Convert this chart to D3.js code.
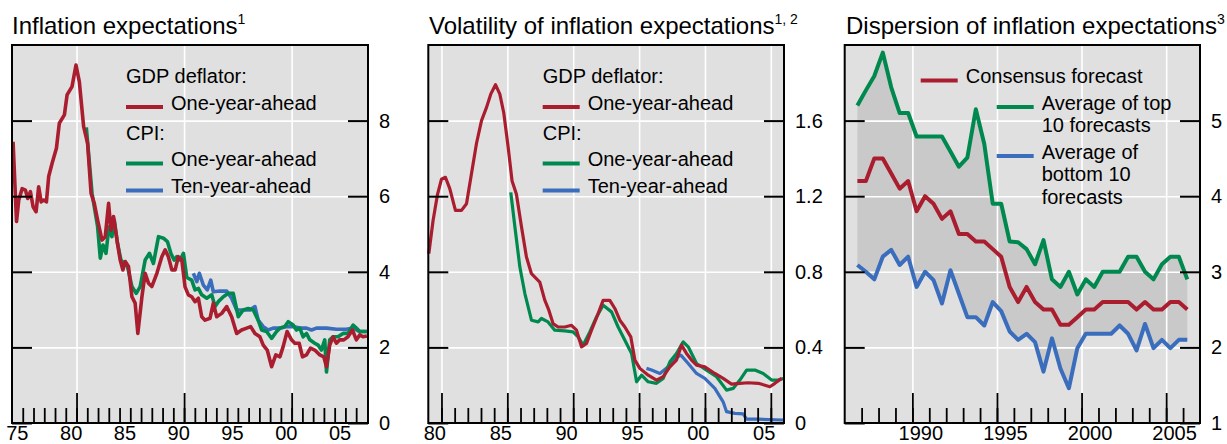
<!DOCTYPE html>
<html>
<head>
<meta charset="utf-8">
<script src="https://cdn.jsdelivr.net/npm/d3@7"></script>
<style>
  body { margin: 0; background: #fff; }
  svg { font-family: "Liberation Sans", Arial, sans-serif; display: block; }
</style>
</head>
<body>
<svg id="chart"></svg>
<script>
// [ --- data
// Panel 1: inflation expectations, [year, per cent]
var gdpOneYear = [[1974.1,7.44],[1974.42,5.33],[1974.63,5.9],[1974.94,6.2],[1975.25,6.16],[1975.46,5.94],[1975.71,6.12],
  [1975.96,5.72],[1976.24,5.59],[1976.48,6.25],[1976.71,5.85],[1976.95,5.9],[1977.2,5.85],[1977.41,6.52],[1977.73,6.87],
  [1978.13,7.27],[1978.4,7.93],[1978.87,8.15],[1979.12,8.68],[1979.58,8.9],[1979.95,9.47],[1980.26,9.03],[1980.66,7.84],
  [1981.03,7.4],[1981.35,6.08],[1981.65,5.81],[1981.96,5.37],[1982.37,4.84],[1982.67,4.93],[1982.98,5.81],[1983.2,5.1],
  [1983.44,5.46],[1983.76,4.84],[1984.06,4.31],[1984.31,4.05],[1984.53,4.27],[1984.83,4.14],[1985.15,3.34],[1985.45,3.17],
  [1985.7,2.37],[1986.08,3.34],[1986.38,3.96],[1986.69,3.7],[1987,3.61],[1987.47,3.96],[1987.93,4.4],[1988.24,4.58],
  [1988.54,4.4],[1988.86,4.05],[1989.17,4.05],[1989.47,4.4],[1989.79,4.31],[1990.09,3.6],[1990.4,3.39],[1990.71,3.34],
  [1991.02,3.21],[1991.33,3.3],[1991.64,2.81],[1991.95,2.72],[1992.41,2.77],[1992.72,3.17],[1993.03,2.81],[1993.5,2.9],
  [1993.96,3.08],[1994.42,2.81],[1994.89,2.37],[1995.35,2.46],[1995.82,2.51],[1996.19,2.55],[1996.59,2.37],[1997.05,2.28],
  [1997.36,2.06],[1997.73,1.93],[1998.14,1.49],[1998.53,1.8],[1998.91,1.75],[1999.21,2.02],[1999.58,2.42],[1999.99,2.2],
  [2000.3,2.11],[2000.7,2.11],[2001.01,1.75],[2001.38,1.8],[2001.75,1.98],[2002.15,1.93],[2002.62,1.8],[2002.99,1.75],
  [2003.24,1.49],[2003.54,2.06],[2003.85,2.28],[2004.16,2.11],[2004.47,2.2],[2004.85,2.2],[2005.24,2.28],[2005.65,2.46],
  [2006.02,2.2],[2006.33,2.33],[2006.63,2.28],[2007,2.3]];

var cpiOneYear = [[1980.91,7.82],[1981.44,6.08],[1981.96,5.19],[1982.21,4.36],[1982.46,4.71],[1982.74,4.49],[1983.01,5.19],
  [1983.29,4.93],[1983.51,5.37],[1983.81,4.75],[1984.13,4.31],[1984.43,4.22],[1984.74,4.14],[1985.15,3.61],[1985.55,3.43],
  [1985.92,3.61],[1986.38,4.31],[1986.78,4.49],[1987.15,4.22],[1987.62,4.93],[1988.08,4.89],[1988.45,4.8],[1988.77,4.49],
  [1989.07,4.31],[1989.32,4.4],[1989.63,4.31],[1989.94,4.49],[1990.25,3.85],[1990.71,3.78],[1991.02,3.52],[1991.33,3.56],
  [1991.64,3.39],[1992.11,3.3],[1992.57,3.39],[1992.88,3.08],[1993.18,3.21],[1993.65,3.34],[1994.11,3.43],[1994.57,3.43],
  [1995.04,2.81],[1995.5,2.99],[1995.96,3.03],[1996.43,2.99],[1996.89,2.72],[1997.21,2.46],[1997.67,2.42],[1998.14,2.24],
  [1998.6,2.42],[1998.91,2.51],[1999.37,2.55],[1999.68,2.68],[2000.14,2.59],[2000.45,2.46],[2000.76,2.51],[2001.07,2.28],
  [2001.38,2.37],[2001.69,2.2],[2002.15,2.11],[2002.46,2.06],[2002.77,1.93],[2003.08,2.2],[2003.24,1.35],[2003.54,2.2],
  [2003.85,2.28],[2004.31,2.28],[2004.78,2.37],[2005.24,2.37],[2005.71,2.59],[2006.02,2.51],[2006.33,2.42],[2007,2.42]];

var cpiTenYear = [[1990.86,3.96],[1991.18,3.74],[1991.42,3.96],[1991.79,3.65],[1992.16,3.52],[1992.48,3.78],[1992.72,3.47],
  [1993.34,3.49],[1993.96,3.49],[1994.42,3.3],[1994.89,2.99],[1995.5,2.99],[1996.12,2.99],[1996.59,3.08],[1996.89,2.72],
  [1997.36,2.55],[1997.82,2.46],[1998.28,2.51],[1998.91,2.51],[1999.53,2.55],[2000.14,2.55],[2000.76,2.51],[2001.38,2.51],
  [2001.85,2.46],[2002.31,2.51],[2003.24,2.51],[2004.16,2.48],[2005.09,2.48],[2005.71,2.51],[2006.33,2.42],[2007,2.42]];

// Panel 2: volatility of inflation expectations, [year, percentage points]
var volGdpOneYear = [[1979.04,0.896],[1979.36,1.07],[1979.7,1.21],[1980,1.29],[1980.3,1.3],[1980.63,1.24],[1981.06,1.125],
  [1981.52,1.125],[1981.9,1.16],[1982.28,1.32],[1982.66,1.48],[1983.04,1.6],[1983.42,1.67],[1983.74,1.74],[1984.1,1.79],
  [1984.43,1.74],[1984.73,1.64],[1985.06,1.46],[1985.36,1.28],[1985.69,1.21],[1986.07,1.04],[1986.45,0.878],[1986.83,0.79],
  [1987.46,0.746],[1987.84,0.65],[1988.15,0.597],[1988.47,0.526],[1988.85,0.508],[1989.36,0.508],[1989.87,0.517],
  [1990.25,0.491],[1990.63,0.403],[1991.01,0.421],[1991.39,0.491],[1991.89,0.579],[1992.27,0.649],[1992.78,0.649],
  [1993.16,0.606],[1993.54,0.544],[1993.92,0.508],[1994.37,0.456],[1994.68,0.333],[1995.06,0.289],[1995.69,0.253],
  [1996.32,0.227],[1996.83,0.245],[1997.34,0.297],[1997.84,0.333],[1998.22,0.412],[1998.6,0.368],[1998.98,0.333],
  [1999.36,0.306],[1999.99,0.297],[2000.75,0.262],[2001.38,0.236],[2002.02,0.206],[2002.65,0.21],[2003.28,0.213],
  [2004.04,0.21],[2004.55,0.2],[2004.93,0.192],[2005.31,0.21],[2005.82,0.236]];

var volCpiOneYear = [[1985.26,1.22],[1985.57,1.04],[1985.95,0.825],[1986.33,0.685],[1986.83,0.544],[1987.34,0.535],
  [1987.59,0.553],[1988.09,0.535],[1988.6,0.491],[1989.36,0.487],[1989.99,0.482],[1990.37,0.456],[1990.75,0.412],
  [1991.26,0.482],[1991.77,0.561],[1992.27,0.623],[1992.91,0.588],[1993.41,0.508],[1993.92,0.438],[1994.43,0.368],
  [1994.81,0.218],[1995.19,0.253],[1995.69,0.218],[1996.32,0.21],[1996.83,0.236],[1997.34,0.324],[1997.84,0.368],
  [1998.35,0.429],[1998.73,0.403],[1999.36,0.315],[2000.12,0.28],[2000.88,0.245],[2001.64,0.174],[2002.14,0.183],
  [2002.65,0.227],[2003.16,0.28],[2003.79,0.28],[2004.42,0.262],[2005.06,0.227],[2005.56,0.227],[2005.94,0.236]];

var volCpiTenYear = [[1995.56,0.289],[1995.95,0.28],[1996.58,0.262],[1997.21,0.297],[1997.72,0.342],[1998.17,0.359],
  [1998.73,0.315],[1999.36,0.262],[1999.99,0.236],[2000.75,0.183],[2001.38,0.112],[2001.64,0.06],[2002.27,0.051],
  [2002.9,0.048],[2003.16,0.02],[2004.04,0.02],[2005.94,0.016]];

// Panel 3: dispersion of inflation expectations, survey dates and per cent
var dispDates = [1986.75, 1987.25, 1987.75, 1988.25, 1988.75, 1989.25, 1989.75, 1990.25, 1990.75, 1991.25,
  1991.75, 1992.25, 1992.75, 1993.25, 1993.75, 1994.25, 1994.75, 1995.25, 1995.75, 1996.25,
  1996.75, 1997.25, 1997.75, 1998.25, 1998.75, 1999.25, 1999.75, 2000.25, 2000.75, 2001.25,
  2001.75, 2002.25, 2002.75, 2003.25, 2003.75, 2004.25, 2004.75, 2005.25, 2005.75, 2006.25];
var dispConsensus = [4.2, 4.2, 4.5, 4.5, 4.3, 4.1, 4.2, 3.8, 4.0, 3.9, 3.7, 3.8, 3.5, 3.5, 3.4, 3.4, 3.3, 3.2, 2.8, 2.6,
  2.8, 2.6, 2.5, 2.5, 2.3, 2.3, 2.4, 2.5, 2.5, 2.6, 2.6, 2.6, 2.6, 2.5, 2.6, 2.5, 2.5, 2.6, 2.6, 2.5];
var dispTop10 = [5.2, 5.4, 5.59, 5.9, 5.44, 5.1, 5.1, 4.79, 4.79, 4.79, 4.79, 4.59, 4.39, 4.51, 5.15, 4.69, 3.9, 3.9, 3.4, 3.39,
  3.3, 3.1, 3.42, 2.9, 2.8, 3.0, 2.7, 2.9, 2.8, 3.0, 3.0, 3.0, 3.2, 3.2, 3.0, 2.9, 3.1, 3.2, 3.2, 2.9];
var dispBottom10 = [3.09, 3.0, 2.9, 3.2, 3.29, 3.09, 3.2, 2.8, 3.0, 2.89, 2.58, 3.02, 2.71, 2.4, 2.4, 2.29, 2.6, 2.48, 2.21, 2.1,
  2.18, 2.07, 1.68, 2.12, 1.72, 1.46, 1.99, 2.18, 2.18, 2.18, 2.18, 2.29, 2.18, 1.96, 2.31, 1.99, 2.1, 1.99, 2.1, 2.1];

// tick values
var yTicks1 = [0, 2, 4, 6, 8];
var yTicks2 = [0, 0.4, 0.8, 1.2, 1.6];
var yTicks3 = [1, 2, 3, 4, 5];
var xLabels1 = ["75", "80", "85", "90", "95", "00", "05"];
var xLabels2 = ["80", "85", "90", "95", "00", "05"];
var xLabels3 = ["1990", "1995", "2000", "2005"];
// data ---]

var red = "#aa1d2f", green = "#00894f", blue = "#3b6dbd";
var width = 1227, height = 444;
var panelTop = 45, panelBottom = 423;

var svg = d3.select("#chart")
    .attr("width", width)
    .attr("height", height);

function drawPanel(cfg) {
  var xScale = d3.scaleLinear()
                  .domain(cfg.xDomain)
                  .range([cfg.left, cfg.right]);
  var yScale = d3.scaleLinear()
                  .domain(cfg.yDomain)
                  .range([panelBottom, panelTop]);
  var plotW = cfg.right - cfg.left;
  var plotH = panelBottom - panelTop;
  var g = svg.append("g");

  g.append("rect")
      .attr("x", cfg.left)
      .attr("y", panelTop)
      .attr("width", plotW)
      .attr("height", plotH)
      .attr("fill", "#e0e0e0");

  if (cfg.band) {
    var area = d3.area()
                  .x(d => xScale(d[0]))
                  .y0(d => yScale(d[1]))
                  .y1(d => yScale(d[2]));
    g.append("path")
        .datum(cfg.band)
        .attr("d", area)
        .attr("fill", "#c9c9c9");
  }

  // white grid lines
  g.append("g")
      .attr("transform", "translate(" + cfg.left + ",0)")
      .call(d3.axisRight(yScale).tickValues(cfg.yTicks).tickSize(plotW).tickFormat(""))
      .call(a => a.select(".domain").remove())
      .selectAll("line")
        .attr("stroke", "#fff")
        .attr("stroke-width", 1.6);

  g.append("g")
      .attr("transform", "translate(0," + panelTop + ")")
      .call(d3.axisBottom(xScale).tickValues(cfg.majorYears).tickSize(plotH).tickFormat(""))
      .call(a => a.select(".domain").remove())
      .selectAll("line")
        .attr("stroke", "#fff")
        .attr("stroke-width", 1.6);

  var line = d3.line()
                .x(d => xScale(d[0]))
                .y(d => yScale(d[1]));

  cfg.series.forEach(function(s){
    g.append("path")
        .datum(s.data)
        .attr("d", line)
        .attr("fill", "none")
        .attr("stroke", s.color)
        .attr("stroke-width", cfg.lineWidth)
        .attr("stroke-linejoin", "round");
  });

  // black y ticks on both inner edges
  g.append("g")
      .attr("transform", "translate(" + cfg.left + ",0)")
      .call(d3.axisRight(yScale).tickValues(cfg.yTicks).tickSize(20).tickFormat(""))
      .call(a => a.select(".domain").remove())
      .selectAll("line").attr("stroke-width", 2);

  g.append("g")
      .attr("transform", "translate(" + cfg.right + ",0)")
      .call(d3.axisLeft(yScale).tickValues(cfg.yTicks).tickSize(20).tickFormat(""))
      .call(a => a.select(".domain").remove())
      .selectAll("line").attr("stroke-width", 2);

  // x ticks rising from the bottom edge
  g.append("g")
      .attr("transform", "translate(0," + panelBottom + ")")
      .call(d3.axisTop(xScale).tickValues(cfg.minorYears).tickSize(15).tickFormat(""))
      .call(a => a.select(".domain").remove())
      .selectAll("line").attr("stroke-width", 1.8);

  g.append("g")
      .attr("transform", "translate(0," + panelBottom + ")")
      .call(d3.axisTop(xScale).tickValues(cfg.majorYears).tickSize(30).tickFormat(""))
      .call(a => a.select(".domain").remove())
      .selectAll("line").attr("stroke-width", 1.8);

  g.append("rect")
      .attr("x", cfg.left)
      .attr("y", panelTop)
      .attr("width", plotW)
      .attr("height", plotH)
      .attr("fill", "none")
      .attr("stroke", "#000")
      .attr("stroke-width", 2);

  // y labels outside on the right
  g.append("g")
      .attr("transform", "translate(" + cfg.right + ",0)")
      .call(d3.axisRight(yScale).tickValues(cfg.yTicks).tickSize(0).tickPadding(11)
              .tickFormat(d => String(d)))
      .call(a => a.select(".domain").remove())
      .attr("font-family", null)
      .attr("font-size", 20)
      .selectAll("text").attr("fill", "#000");

  // x labels (BIS style: centred half a year off the tick)
  g.selectAll(".xlab")
    .data(cfg.xLabels)
    .enter()
    .append("text")
      .attr("x", (d, i) => xScale(cfg.labelYears[i] + cfg.labelShift))
      .attr("y", 440)
      .style("text-anchor", "middle")
      .attr("font-size", 20)
      .text(d => d);

  var title = g.append("text")
      .attr("x", cfg.titleX)
      .attr("y", 34)
      .attr("font-size", 24)
      .text(cfg.title);
  title.append("tspan")
      .attr("dy", -10)
      .attr("font-size", 14)
      .text(cfg.note);

  cfg.legend.forEach(function(d){
    if (d.color) {
      g.append("line")
          .attr("x1", d.x)
          .attr("x2", d.x + 37)
          .attr("y1", d.y - 2.5)
          .attr("y2", d.y - 2.5)
          .attr("stroke", d.color)
          .attr("stroke-width", 4);
    }
    d.lines.forEach(function(t, i){
      g.append("text")
          .attr("x", d.color ? d.x + 45 : d.x)
          .attr("y", d.y + i * 22.7)
          .attr("font-size", 20)
          .text(t);
    });
  });
}

// [ --- Panel 1
drawPanel({
  left: 12, right: 368,
  xDomain: [1974, 2007.1], yDomain: [0, 10],
  yTicks: yTicks1,
  minorYears: d3.range(1975, 2007),
  majorYears: [1980, 1990, 2000],
  labelYears: [1975, 1980, 1985, 1990, 1995, 2000, 2005],
  labelShift: -0.5,
  xLabels: xLabels1,
  lineWidth: 3.6,
  series: [
    {data: cpiTenYear, color: blue},
    {data: cpiOneYear, color: green},
    {data: gdpOneYear, color: red}
  ],
  titleX: 12, title: "Inflation expectations", note: "1",
  legend: [
    {x: 126, y: 83, lines: ["GDP deflator:"]},
    {x: 126, y: 109.5, color: red, lines: ["One-year-ahead"]},
    {x: 126, y: 140, lines: ["CPI:"]},
    {x: 126, y: 166, color: green, lines: ["One-year-ahead"]},
    {x: 126, y: 193, color: blue, lines: ["Ten-year-ahead"]}
  ]
});
// Panel 1 ---]

// [ --- Panel 2
drawPanel({
  left: 428.3, right: 784,
  xDomain: [1979, 2006], yDomain: [0, 2],
  yTicks: yTicks2,
  minorYears: d3.range(1980, 2006),
  majorYears: [1980, 1985, 1990, 1995, 2000, 2005],
  labelYears: [1980, 1985, 1990, 1995, 2000, 2005],
  labelShift: -0.5,
  xLabels: xLabels2,
  lineWidth: 3.2,
  series: [
    {data: volCpiTenYear, color: blue},
    {data: volCpiOneYear, color: green},
    {data: volGdpOneYear, color: red}
  ],
  titleX: 429, title: "Volatility of inflation expectations", note: "1, 2",
  legend: [
    {x: 542.7, y: 83, lines: ["GDP deflator:"]},
    {x: 542.7, y: 109.5, color: red, lines: ["One-year-ahead"]},
    {x: 542.7, y: 140, lines: ["CPI:"]},
    {x: 542.7, y: 166, color: green, lines: ["One-year-ahead"]},
    {x: 542.7, y: 193, color: blue, lines: ["Ten-year-ahead"]}
  ]
});
// Panel 2 ---]

// [ --- Panel 3
var dispBand = dispDates.map((d, i) => [d, dispBottom10[i], dispTop10[i]]);

drawPanel({
  left: 844.7, right: 1200,
  xDomain: [1986, 2007], yDomain: [1, 6],
  yTicks: yTicks3,
  minorYears: d3.range(1987, 2007),
  majorYears: [1990, 1995, 2000, 2005],
  labelYears: [1990, 1995, 2000, 2005],
  labelShift: 0.5,
  xLabels: xLabels3,
  lineWidth: 4,
  band: dispBand,
  series: [
    {data: dispDates.map((d, i) => [d, dispTop10[i]]), color: green},
    {data: dispDates.map((d, i) => [d, dispBottom10[i]]), color: blue},
    {data: dispDates.map((d, i) => [d, dispConsensus[i]]), color: red}
  ],
  titleX: 846, title: "Dispersion of inflation expectations", note: "3",
  legend: [
    {x: 920.7, y: 83, color: red, lines: ["Consensus forecast"]},
    {x: 996.7, y: 109.5, color: green, lines: ["Average of top", "10 forecasts"]},
    {x: 996.7, y: 158.5, color: blue, lines: ["Average of", "bottom 10", "forecasts"]}
  ]
});
// Panel 3 ---]
</script>
</body>
</html>
